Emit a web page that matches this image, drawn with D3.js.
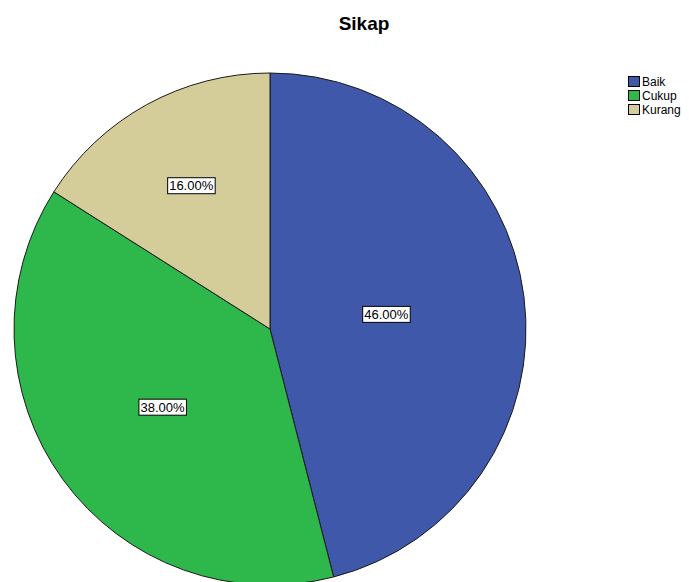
<!DOCTYPE html>
<html>
<head>
<meta charset="utf-8">
<script src="https://cdn.jsdelivr.net/npm/d3@7"></script>
<style>
  body { margin: 0; background: #fff; }
</style>
</head>
<body>
<div id="chart"></div>
<script>
const categories = ['Baik', 'Cukup', 'Kurang'];
const values = [46, 38, 16];
const colors = ['#3f58aa', '#2eb74a', '#d4cd9a'];

const width = 689;
const height = 582;
const cx = 270, cy = 329, R = 256;

const svg = d3.select('#chart')
  .append('svg')
  .attr('width', width)
  .attr('height', height)
  .attr('font-family', 'Arial, "Liberation Sans", sans-serif');

svg.append('text')
  .attr('x', 364)
  .attr('y', 30)
  .attr('text-anchor', 'middle')
  .attr('font-size', 19)
  .attr('font-weight', 'bold')
  .text('Sikap');

const color = d3.scaleOrdinal(categories, colors);

const pie = d3.pie().sort(null).value(d => d.value);
const arcs = pie(categories.map((c, i) => ({ name: c, value: values[i] })));
const arc = d3.arc().innerRadius(0).outerRadius(R);

const g = svg.append('g').attr('transform', `translate(${cx},${cy})`);

g.selectAll('path')
  .data(arcs)
  .join('path')
  .attr('d', arc)
  .attr('fill', d => color(d.data.name))
  .attr('stroke', '#1a1a1a')
  .attr('stroke-width', 1);

// label at the area centroid of each sector
function labelPos(d) {
  const a = (d.endAngle - d.startAngle) / 2;
  const mid = (d.startAngle + d.endAngle) / 2;
  const r = 2 * R * Math.sin(a) / (3 * a);
  return [Math.sin(mid) * r, -Math.cos(mid) * r];
}

const total = d3.sum(values);
const lab = g.selectAll('g.lab')
  .data(arcs)
  .join('g')
  .attr('class', 'lab')
  .attr('transform', d => `translate(${labelPos(d)})`);

lab.append('text')
  .attr('text-anchor', 'middle')
  .attr('dy', '0.35em')
  .attr('font-size', 13)
  .attr('fill', '#000')
  .text(d => (d.data.value / total * 100).toFixed(2) + '%');

lab.each(function () {
  const t = d3.select(this).select('text');
  const b = t.node().getBBox();
  d3.select(this).insert('rect', 'text')
    .attr('x', b.x - 1.5)
    .attr('y', b.y - 0.5)
    .attr('width', b.width + 3)
    .attr('height', b.height + 1)
    .attr('fill', '#fff')
    .attr('stroke', '#000')
    .attr('stroke-width', 1);
});

// legend
const legend = svg.append('g').attr('transform', 'translate(628,76)');
const row = legend.selectAll('g')
  .data(categories)
  .join('g')
  .attr('transform', (d, i) => `translate(0,${i * 14})`);

row.append('rect')
  .attr('x', 0.5)
  .attr('y', 0.5)
  .attr('width', 11)
  .attr('height', 10)
  .attr('fill', d => color(d))
  .attr('stroke', '#000')
  .attr('stroke-width', 1);

row.append('text')
  .attr('x', 14)
  .attr('y', 10)
  .attr('font-size', 12)
  .text(d => d);
</script>
</body>
</html>
